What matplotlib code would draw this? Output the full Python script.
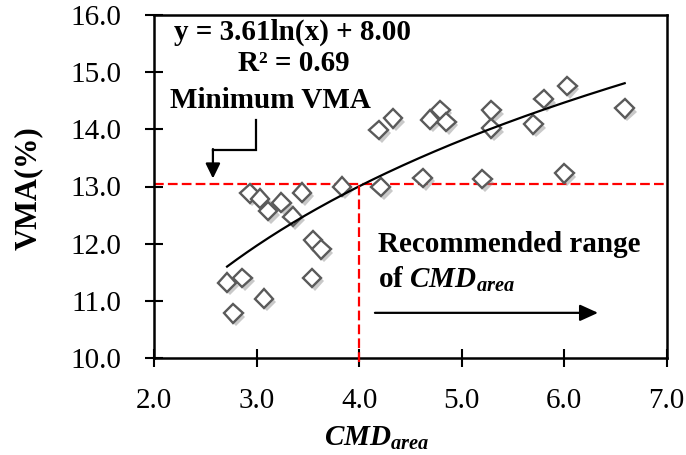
import numpy as np
import matplotlib
matplotlib.use("Agg")
import matplotlib.pyplot as plt
from matplotlib import patheffects as pe
from matplotlib.ticker import FormatStrFormatter

plt.rcParams['font.family'] = ['Liberation Serif', 'DejaVu Serif']
plt.rcParams['mathtext.fontset'] = 'custom'
plt.rcParams['mathtext.rm'] = 'Liberation Serif'
plt.rcParams['mathtext.it'] = 'Liberation Serif:italic'
plt.rcParams['mathtext.bf'] = 'Liberation Serif:bold'
plt.rcParams['mathtext.bfit'] = 'Liberation Serif:italic:bold'
plt.rcParams['lines.scale_dashes'] = False

# CMD_area vs. VMA measurements
cmd_area = [2.71, 2.86, 2.77, 3.07, 3.54, 3.55, 3.63, 3.35, 2.93, 3.03,
            3.11, 3.24, 3.44, 3.83, 4.21, 4.62, 5.20, 6.00, 6.59, 6.03,
            5.80, 5.70, 5.29, 5.29, 4.69, 4.79, 4.85, 4.33, 4.19]
vma = [11.32, 11.40, 10.78, 11.04, 11.40, 12.06, 11.90, 12.47, 12.88, 12.79,
       12.57, 12.72, 12.89, 13.00, 12.99, 13.15, 13.13, 13.23, 14.37, 14.76,
       14.53, 14.09, 14.33, 14.02, 14.17, 14.34, 14.13, 14.19, 13.99]

# Logarithmic trend: y = a ln(x) + b
fit_a, fit_b = 3.61, 8.00
min_vma = 13.05
min_cmd = 4.0

xticks = [2.0, 3.0, 4.0, 5.0, 6.0, 7.0]
yticks = [10.0, 11.0, 12.0, 13.0, 14.0, 15.0, 16.0]

W, H = 686, 455
fig = plt.figure(figsize=(W / 100, H / 100), dpi=100)
L, R, T, B = 154.3, 666.7, 15.0, 358.0
ax = fig.add_axes([L / W, 1 - B / H, (R - L) / W, (B - T) / H])

ax.set_xlim(xticks[0], xticks[-1])
ax.set_ylim(yticks[0], yticks[-1])
ax.set_xticks(xticks)
ax.set_yticks(yticks)
ax.xaxis.set_major_formatter(FormatStrFormatter('%.1f'))
ax.yaxis.set_major_formatter(FormatStrFormatter('%.1f'))
for s in ax.spines.values():
    s.set_linewidth(1.8)
    s.set_color('black')
ax.tick_params(direction='inout', length=13, width=1.5, labelsize=21,
               color='black', labelcolor='black')
ax.tick_params(axis='y', pad=17)
ax.tick_params(axis='x', pad=15)

# reference lines
ax.axhline(min_vma, color='#FF0000', lw=1.6, dashes=(7, 3), zorder=2)
ax.plot([min_cmd, min_cmd], [yticks[0] - 0.07, min_vma], color='#FF0000',
        lw=1.6, dashes=(7, 3), zorder=4, clip_on=False)

# data points with drop shadow
ax.plot(cmd_area, vma, linestyle='none', marker='D', markersize=9.5,
        markerfacecolor='white', markeredgecolor='#5a5a5a', markeredgewidth=1.7,
        zorder=3,
        path_effects=[pe.SimplePatchShadow(offset=(2, -2.5), shadow_rgbFace='#888888',
                                           alpha=0.45),
                      pe.Normal()])

# trend curve
xs = np.linspace(min(cmd_area), max(cmd_area), 200)
ax.plot(xs, fit_a * np.log(xs) + fit_b, color='black', lw=1.6, zorder=3)

# annotations
ax.text(3.35, 15.70, 'y = 3.61ln(x) + 8.00', ha='center', va='center',
        fontsize=21, fontweight='bold')
ax.text(3.36, 15.16, 'R² = 0.69', ha='center', va='center',
        fontsize=21, fontweight='bold')
ax.text(2.154, 14.51, 'Minimum VMA', ha='left', va='center',
        fontsize=21, fontweight='bold')
ax.plot([2.993, 2.993, 2.572], [14.16, 13.64, 13.64], color='black', lw=1.6,
        solid_joinstyle='miter')
ax.annotate('', xy=(2.572, 13.14), xytext=(2.572, 13.655),
            arrowprops=dict(arrowstyle='-|>,head_length=0.45,head_width=0.22',
                            mutation_scale=20, color='black', lw=1.6,
                            shrinkA=0, shrinkB=0))

ax.text(4.186, 11.99, 'Recommended range', ha='left', va='center',
        fontsize=21, fontweight='bold')
ax.text(4.186, 11.38, r'of $\mathbfit{CMD}_{\mathbfit{area}}$', ha='left',
        va='center', fontsize=21, fontweight='bold')
ax.annotate('', xy=(6.33, 10.79), xytext=(4.153, 10.79),
            arrowprops=dict(arrowstyle='-|>,head_length=0.55,head_width=0.25',
                            mutation_scale=20, color='black', lw=1.6,
                            shrinkA=0, shrinkB=0))

# axis titles
fig.text(28 / W, 1 - 188 / H, 'VMA(%)', rotation=90, ha='center', va='center',
         fontsize=22, fontweight='bold')
fig.text(377 / W, 1 - 438 / H, r'$\mathbfit{CMD}_{\mathbfit{area}}$', ha='center',
         va='center', fontsize=21)

fig.savefig('out.png', dpi=100)
